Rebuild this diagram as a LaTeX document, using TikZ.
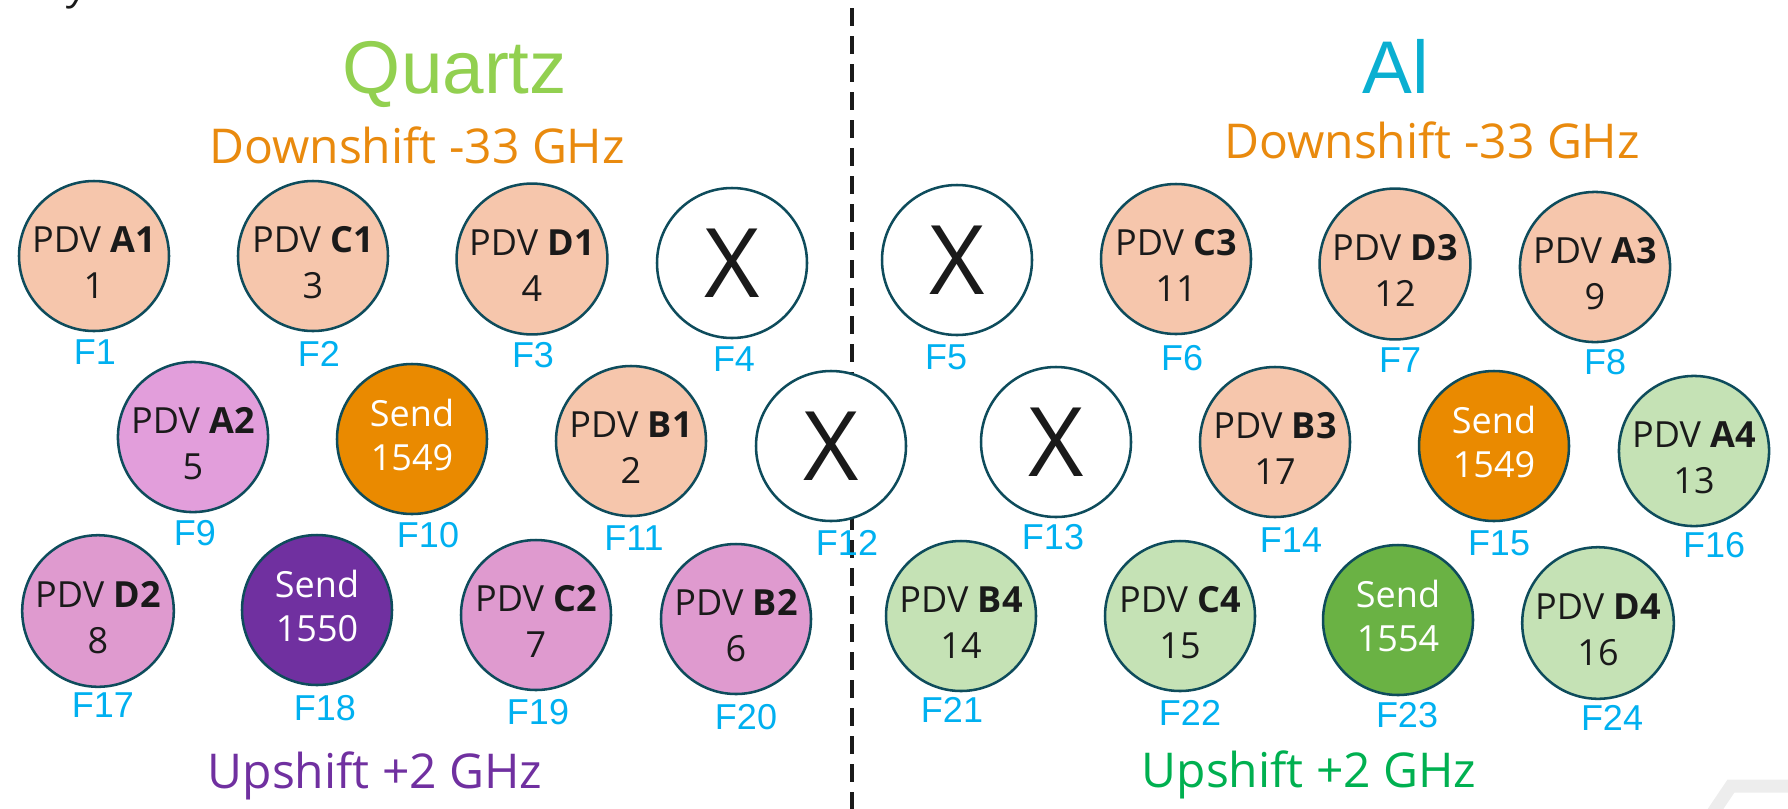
\documentclass[tikz,border=0pt]{standalone}
\usepackage{fontspec}
\setmainfont{Open Sans}
\newfontfamily\arialfont{Liberation Sans}

\definecolor{ringcol}{HTML}{0E4C5C}
\definecolor{inkcol}{HTML}{1A1A1A}
\definecolor{peachfill}{HTML}{F6C6AC}
\definecolor{pinkfill}{HTML}{E29EDB}
\definecolor{mauvefill}{HTML}{DF9ACF}
\definecolor{mintfill}{HTML}{C5E2B5}
\definecolor{orangesend}{HTML}{EA8A00}
\definecolor{purplesend}{HTML}{7030A0}
\definecolor{greensend}{HTML}{6AB244}
\definecolor{flblue}{HTML}{00B0F0}
\definecolor{quartzgreen}{HTML}{92D050}
\definecolor{alblue}{HTML}{0AAFD1}
\definecolor{downorange}{HTML}{E98A0E}
\definecolor{upgreen}{HTML}{00B050}
\definecolor{bandgray}{HTML}{EDEDED}

% two-line probe text, pushed a little below the circle centre
\newcommand{\pdvtext}[2]{\rule{0pt}{29pt}PDV \textbf{#1}\\#2}

\tikzset{every picture/.style={line width=0.75pt}}
\tikzset{
  ring/.style={circle, draw=ringcol, line width=1.9pt, minimum size=112.5pt, inner sep=0pt,
    align=center, font=\fontsize{27}{34.5}\selectfont, text=inkcol},
  peach/.style={ring, fill=peachfill},
  pink/.style={ring, fill=pinkfill},
  mauve/.style={ring, fill=mauvefill},
  mint/.style={ring, fill=mintfill},
  sendc/.style={ring, text=white, font=\fontsize{27}{33}\selectfont,
    execute at end node={\rule[-6pt]{0pt}{0pt}}},
  blank/.style={ring, fill=white, font=\fontsize{72}{72}\selectfont},
  flabel/.style={text=flblue, font=\arialfont\fontsize{27}{27}\selectfont, inner sep=0pt},
  heading/.style={anchor=base, inner sep=0pt, font=\arialfont\fontsize{56}{56}\selectfont},
  freqtext/.style={anchor=base, inner sep=0pt, font=\fontsize{36}{36}\selectfont},
}

\begin{document}
\begin{tikzpicture}[x=0.75pt,y=0.75pt,yscale=-1,xscale=1]
	\useasboundingbox (0,0) rectangle (1788,808);

	% stray bits of the slide
	\node[anchor=base, inner sep=0pt, font=\itshape\fontsize{30}{30}\selectfont, text=inkcol] (ytail) at (80,-1) {y};
	\coordinate (bandA) at (1704,826);
	\coordinate (bandB) at (1731,786);
	\coordinate (bandC) at (1800,786);
	\draw [line width=9.75pt, draw=bandgray] (bandA) -- (bandB) -- (bandC);

	%Straight Lines: divider
	\coordinate (divtop) at (852,8);
	\coordinate (divbot) at (852,812);
	\draw [line width=2.6pt, inkcol, dash pattern=on 13.5pt off 7.5pt] (divtop) -- (divbot);

	% Text Node: headings
	\node[heading, text=quartzgreen] (quartz) at (455,93) {Quartz};
	\node[heading, text=alblue] (al) at (1396,93) {Al};
	\node[freqtext, text=downorange] (downL) at (417,163) {Downshift -33 GHz};
	\node[freqtext, text=downorange] (downR) at (1432,158) {Downshift -33 GHz};
	\node[freqtext, text=purplesend] (upL) at (375,788) {Upshift +2 GHz};
	\node[freqtext, text=upgreen] (upR) at (1309,787) {Upshift +2 GHz};

	%Shape: Circle, row 1
	\node[peach] (a1) at (94,256) {\pdvtext{A1}{1}};
	\node[peach] (c1) at (313,256) {\pdvtext{C1}{3}};
	\node[peach] (d1) at (532,259) {\pdvtext{D1}{4}};
	\node[blank] (x4) at (732,263) {X};
	\node[blank] (x5) at (957,260) {X};
	\node[peach] (c3) at (1176,259) {\pdvtext{C3}{11}};
	\node[peach] (d3) at (1395,264) {\pdvtext{D3}{12}};
	\node[peach] (a3) at (1595,267) {\pdvtext{A3}{9}};

	%Shape: Circle, row 2
	\node[pink] (a2) at (193,437) {\pdvtext{A2}{5}};
	\node[sendc, fill=orangesend] (s1549L) at (412,439) {Send\\1549};
	\node[peach] (b1) at (631,441) {\pdvtext{B1}{2}};
	\node[blank] (x12) at (831,446) {X};
	\node[blank] (x13) at (1056,442) {X};
	\node[peach] (b3) at (1275,442) {\pdvtext{B3}{17}};
	\node[sendc, fill=orangesend] (s1549R) at (1494,446) {Send\\1549};
	\node[mint] (a4) at (1694,451) {\pdvtext{A4}{13}};

	%Shape: Circle, row 3
	\node[mauve] (d2) at (98,611) {\pdvtext{D2}{8}};
	\node[sendc, fill=purplesend] (s1550) at (317,610) {Send\\1550};
	\node[mauve] (c2) at (536,615) {\pdvtext{C2}{7}};
	\node[mauve] (b2) at (736,619) {\pdvtext{B2}{6}};
	\node[mint] (b4) at (961,616) {\pdvtext{B4}{14}};
	\node[mint] (c4) at (1180,616) {\pdvtext{C4}{15}};
	\node[sendc, fill=greensend] (s1554) at (1398,620) {Send\\1554};
	\node[mint] (d4) at (1598,623) {\pdvtext{D4}{16}};

	% Text Node: fibre labels
	\node[flabel] (f1) at (95,352) {F1};
	\node[flabel] (f2) at (319,354) {F2};
	\node[flabel] (f3) at (533,355) {F3};
	\node[flabel] (f4) at (734,359) {F4};
	\node[flabel] (f5) at (946,357) {F5};
	\node[flabel] (f6) at (1182,358) {F6};
	\node[flabel] (f7) at (1400,360) {F7};
	\node[flabel] (f8) at (1605,362) {F8};
	\node[flabel] (f9) at (195,533) {F9};
	\node[flabel] (f10) at (428,535) {F10};
	\node[flabel] (f11) at (634,538) {F11};
	\node[flabel] (f12) at (847,543) {F12};
	\node[flabel] (f13) at (1053,537) {F13};
	\node[flabel] (f14) at (1291,540) {F14};
	\node[flabel] (f15) at (1499,543) {F15};
	\node[flabel] (f16) at (1714,545) {F16};
	\node[flabel] (f17) at (103,705) {F17};
	\node[flabel] (f18) at (325,708) {F18};
	\node[flabel] (f19) at (538,712) {F19};
	\node[flabel] (f20) at (746,717) {F20};
	\node[flabel] (f21) at (952,710) {F21};
	\node[flabel] (f22) at (1190,713) {F22};
	\node[flabel] (f23) at (1407,715) {F23};
	\node[flabel] (f24) at (1612,718) {F24};

\end{tikzpicture}
\end{document}
